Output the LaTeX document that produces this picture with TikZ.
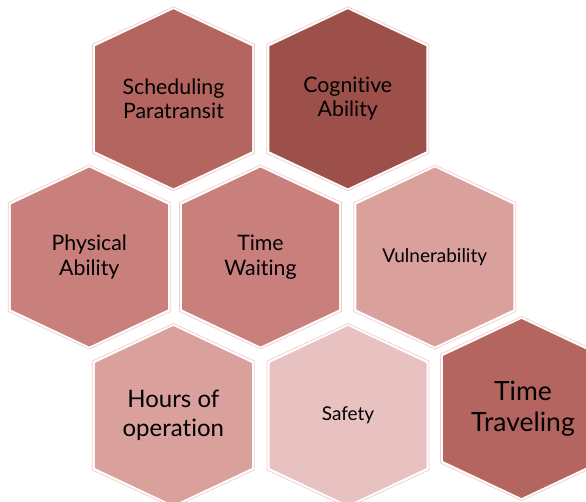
\documentclass[tikz,border=0pt]{standalone}
\usepackage{fontspec}
\setmainfont{Lato}[Ligatures={NoCommon}]
\definecolor{cA}{RGB}{181,101,95}
\definecolor{cB}{RGB}{156,80,73}
\definecolor{cC}{RGB}{201,128,124}
\definecolor{cD}{RGB}{217,160,156}
\definecolor{cE}{RGB}{232,194,193}
\definecolor{rim}{RGB}{240,205,205}
\newcommand{\hexcell}[3]{%
  \draw[rim, line width=0.7pt, fill=white]
    (#1,#2-92) -- ++(81,37.5) -- ++(0,109) -- ++(-81,37.5) -- ++(-81,-37.5) -- ++(0,-109) -- cycle;
  \fill[#3]
    (#1,#2-89.5) -- ++(78.5,37) -- ++(0,105) -- ++(-78.5,37) -- ++(-78.5,-37) -- ++(0,-105) -- cycle;
}
\begin{document}
\begin{tikzpicture}[x=1pt,y=-1pt,
  lbl/.style={align=center,text=black,inner sep=0pt},
  fs/.style={font=\fontsize{21.3}{24.5}\selectfont},
  fm/.style={font=\fontsize{24}{28.5}\selectfont},
  fl/.style={font=\fontsize{26.5}{30.5}\selectfont},
  fv/.style={font=\fontsize{19}{22}\selectfont}]
\useasboundingbox (0,0) rectangle (586,501);
\begin{scope}
\clip (0,0) rectangle (586,501);
\hexcell{173.5}{98.8}{cA}
\hexcell{347.8}{98.8}{cB}
\hexcell{89.3}{257}{cC}
\hexcell{260.5}{257}{cC}
\hexcell{434.8}{257}{cD}
\hexcell{173.3}{415.5}{cD}
\hexcell{348}{415.5}{cE}
\hexcell{521.5}{408.5}{cA}
\end{scope}
\node[lbl,fs] (sp) at (173.5,98.8) {Scheduling\\Paratransit};
\node[lbl,fs] (ca) at (347.8,98.8) {Cognitive\\Ability};
\node[lbl,fs] (pa) at (89.3,257) {Physical\\Ability};
\node[lbl,fs] (tw) at (260.5,257) {Time\\Waiting};
\node[lbl,fv] (vu) at (434.8,257) {Vulnerability};
\node[lbl,fm] (ho) at (173.3,415.5) {Hours of\\operation};
\node[lbl,fv] (sa) at (348,415.5) {Safety};
\node[lbl,fl] (tt) at (523,408.5) {Time\\Traveling};
\end{tikzpicture}
\end{document}
